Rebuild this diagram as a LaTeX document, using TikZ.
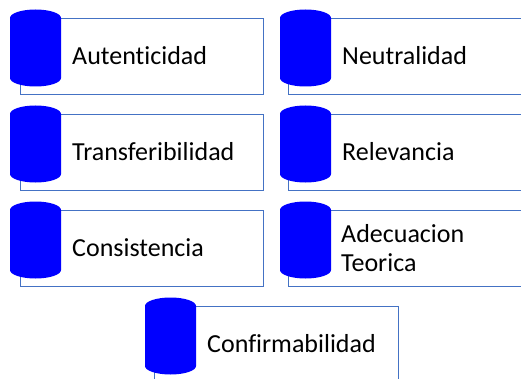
\documentclass[tikz,border=0pt]{standalone}
\usepackage{fontspec}
\setmainfont{Carlito}[Ligatures=NoCommon]
\usepackage{xcolor}
\usepackage{tikz}
\usetikzlibrary{positioning}
\definecolor{framecol}{HTML}{4472C4}
\tikzset{
  frame/.style={draw=framecol, line width=1pt, anchor=north west, minimum height=76pt, inner sep=0pt},
  drum/.style={fill=blue},
  word/.style={anchor=west, inner sep=0pt, align=left, font=\fontsize{26}{29}\selectfont}
}

\begin{document}
\begin{tikzpicture}[x=1pt,y=1pt]
\clip (0,0) rectangle (521,378);
\node[frame, minimum width=243pt] (autbox) at (20,360) {};
\node[frame, minimum width=260pt] (neubox) at (288,360) {};
\node[frame, minimum width=243pt] (trabox) at (20,264) {};
\node[frame, minimum width=260pt] (relbox) at (288,264) {};
\node[frame, minimum width=243pt] (conbox) at (20,168) {};
\node[frame, minimum width=260pt] (adebox) at (288,168) {};
\node[frame, minimum width=244pt, minimum height=90pt] (cfmbox) at (154,72) {};
\fill[drum] (10,360) arc[start angle=180, end angle=0, x radius=25.5, y radius=8.5] -- ++(0,-60) arc[start angle=0, end angle=-180, x radius=25.5, y radius=8.5] -- cycle;
\fill[drum] (280,360) arc[start angle=180, end angle=0, x radius=25.5, y radius=8.5] -- ++(0,-60) arc[start angle=0, end angle=-180, x radius=25.5, y radius=8.5] -- cycle;
\fill[drum] (10,264) arc[start angle=180, end angle=0, x radius=25.5, y radius=8.5] -- ++(0,-60) arc[start angle=0, end angle=-180, x radius=25.5, y radius=8.5] -- cycle;
\fill[drum] (280,264) arc[start angle=180, end angle=0, x radius=25.5, y radius=8.5] -- ++(0,-60) arc[start angle=0, end angle=-180, x radius=25.5, y radius=8.5] -- cycle;
\fill[drum] (10,168) arc[start angle=180, end angle=0, x radius=25.5, y radius=8.5] -- ++(0,-60) arc[start angle=0, end angle=-180, x radius=25.5, y radius=8.5] -- cycle;
\fill[drum] (280,168) arc[start angle=180, end angle=0, x radius=25.5, y radius=8.5] -- ++(0,-60) arc[start angle=0, end angle=-180, x radius=25.5, y radius=8.5] -- cycle;
\fill[drum] (145,72) arc[start angle=180, end angle=0, x radius=25.5, y radius=8.5] -- ++(0,-60) arc[start angle=0, end angle=-180, x radius=25.5, y radius=8.5] -- cycle;
\node[word] (aut) at (72,322) {Autenticidad};
\node[word] (neu) at (342,322) {Neutralidad};
\node[word] (tra) at (72,226) {Transferibilidad};
\node[word] (rel) at (342,226) {Relevancia};
\node[word] (con) at (72,130) {Consistencia};
\node[word] (ade) at (341,130) {Adecuacion\\Teorica};
\node[word] (cfm) at (207,34) {Confirmabilidad};
\end{tikzpicture}
\end{document}
